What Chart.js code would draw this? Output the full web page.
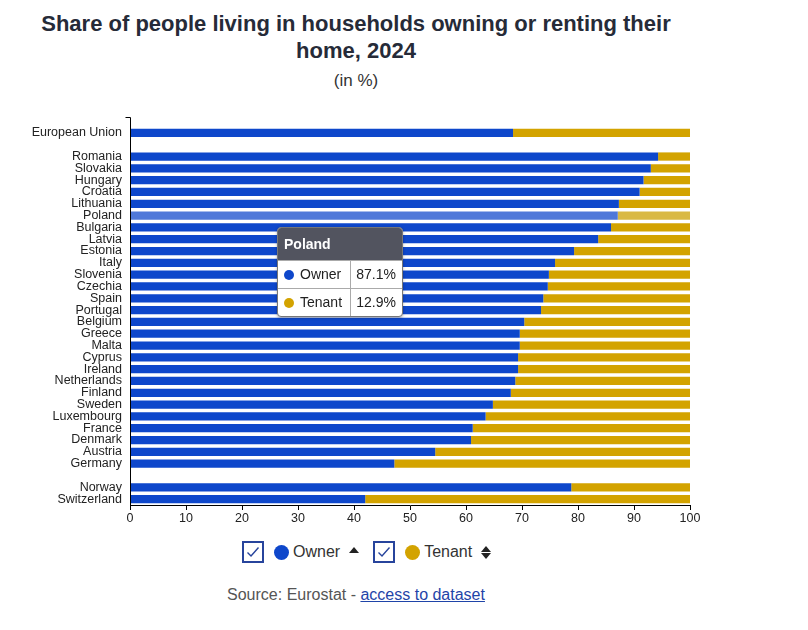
<!DOCTYPE html>
<html>
<head>
<meta charset="utf-8">
<script src="https://cdn.jsdelivr.net/npm/chart.js@4/dist/chart.umd.min.js"></script>
<style>
body { margin: 0; background: #fff; font-family: "Liberation Sans", Arial, sans-serif; }
#wrap { position: relative; width: 808px; height: 630px; }
#title { position: absolute; left: 0; top: 10px; width: 712px; text-align: center; font-weight: bold; font-size: 22px; line-height: 27px; color: #262b38; }
#sub { position: absolute; left: 0; top: 71px; width: 712px; text-align: center; font-size: 17px; line-height: 19px; color: #333; }
#box { position: absolute; left: 0; top: 100px; width: 808px; height: 430px; }
#legend { position: absolute; left: 242px; top: 541px; display: flex; align-items: center; font-size: 16px; color: #333; }
.item { display: flex; align-items: center; margin-right: 14px; }
.cb { width: 22px; height: 22px; box-sizing: border-box; border: 2px solid #27449c; }
.dot { width: 15px; height: 15px; border-radius: 50%; margin: 0 4px 0 10px; }
.up, .down { width: 0; height: 0; border-left: 5px solid transparent; border-right: 5px solid transparent; }
.up { border-bottom: 6px solid #222; }
.down { border-top: 6px solid #222; }
.arrows { margin-left: 9px; display: flex; flex-direction: column; gap: 1px; }
#source { position: absolute; left: 0; top: 586px; width: 712px; text-align: center; font-size: 16px; line-height: 18px; color: #555; }
#source a { color: #1f44a8; text-decoration: underline; }
#tip { position: absolute; width: 126px; background: #fff; border: 1px solid #777; border-radius: 4px; box-shadow: 0 1px 3px rgba(0,0,0,0.3); font-size: 14px; color: #222; overflow: hidden; box-sizing: border-box; display: none; }
#tip .head { background: #52545f; color: #fff; font-weight: bold; height: 32px; line-height: 32px; padding-left: 6px; }
#tip table { border-collapse: collapse; width: 100%; table-layout: fixed; }
#tip td { height: 28px; padding: 0; border-top: 1px solid #aaa; box-sizing: border-box; white-space: nowrap; }
#tip td.n { width: 72px; padding-left: 6px; }
#tip td.v { border-left: 1px solid #aaa; text-align: right; padding-right: 6px; }
#tip .tdot { display: inline-block; width: 10px; height: 10px; border-radius: 50%; margin-right: 6px; vertical-align: -1px; }
</style>
</head>
<body>
<div id="wrap">
  <div id="title">Share of people living in households owning or renting their<br>home, 2024</div>
  <div id="sub">(in %)</div>
  <div id="box"><canvas id="myChart"></canvas></div>
  <div id="tip"></div>
  <div id="legend"></div>
  <div id="source">Source: Eurostat - <a href="#">access to dataset</a></div>
</div>
<script>
// categories ('' rows are the gaps between groups)
const countries = ['European Union', '', 'Romania', 'Slovakia', 'Hungary', 'Croatia', 'Lithuania', 'Poland',
    'Bulgaria', 'Latvia', 'Estonia', 'Italy', 'Slovenia', 'Czechia', 'Spain', 'Portugal', 'Belgium', 'Greece',
    'Malta', 'Cyprus', 'Ireland', 'Netherlands', 'Finland', 'Sweden', 'Luxembourg', 'France', 'Denmark',
    'Austria', 'Germany', '', 'Norway', 'Switzerland'];

// share in %
const owner = [68.4, null, 94.3, 93.0, 91.7, 91.0, 87.3, 87.1, 85.9, 83.6, 79.3, 75.9, 74.8, 74.6, 73.8, 73.4,
    70.4, 69.6, 69.6, 69.3, 69.3, 68.8, 68.0, 64.8, 63.5, 61.2, 60.9, 54.5, 47.2, null, 78.8, 42.0];
const tenant = [31.6, null, 5.7, 7.0, 8.3, 9.0, 12.7, 12.9, 14.1, 16.4, 20.7, 24.1, 25.2, 25.4, 26.2, 26.6,
    29.6, 30.4, 30.4, 30.7, 30.7, 31.2, 32.0, 35.2, 36.5, 38.8, 39.1, 45.5, 52.8, null, 21.2, 58.0];

const xTicks = [0, 10, 20, 30, 40, 50, 60, 70, 80, 90, 100];

const blue = '#0e47cb';
const gold = '#d3a300';
const hovered = 'Poland';

// y axis line with outer tick at the top
const yAxisLine = {
    id: 'yAxisLine',
    afterDraw(chart) {
        const ctx = chart.ctx;
        const area = chart.chartArea;
        const x = Math.round(area.left) + 0.5;
        const top = Math.round(area.top) - 9.5;
        ctx.save();
        ctx.strokeStyle = '#000';
        ctx.lineWidth = 1;
        ctx.beginPath();
        ctx.moveTo(x - 5, top);
        ctx.lineTo(x, top);
        ctx.lineTo(x, area.bottom);
        ctx.stroke();
        ctx.restore();
    }
};

Chart.Tooltip.positioners.pointer = function (items, eventPosition) {
    return eventPosition;
};

function htmlTooltip(context) {
    const tip = document.getElementById('tip');
    const model = context.tooltip;
    if (model.opacity === 0 || !model.dataPoints || !model.dataPoints.length) {
        tip.style.display = 'none';
        return;
    }
    let html = '<div class="head">' + model.title[0] + '</div><table>';
    model.dataPoints.forEach(function (p) {
        html += '<tr><td class="n"><span class="tdot" style="background:' + p.dataset.backgroundColor + '"></span>' +
            p.dataset.label + '</td><td class="v">' + p.raw.toFixed(1) + '%</td></tr>';
    });
    html += '</table>';
    tip.innerHTML = html;
    const canvas = context.chart.canvas;
    const box = document.getElementById('box');
    tip.style.left = (box.offsetLeft + canvas.offsetLeft + model.caretX - 13) + 'px';
    tip.style.top = (box.offsetTop + canvas.offsetTop + model.caretY + 11) + 'px';
    tip.style.display = 'block';
}

const canva = document.getElementById('myChart').getContext('2d');
const myChart = new Chart(canva, {
    type: 'bar',
    data: {
        labels: countries,
        datasets: [{
            label: 'Owner',
            data: owner,
            backgroundColor: blue,
            hoverBackgroundColor: '#4f78d9',
            borderWidth: 0
        }, {
            label: 'Tenant',
            data: tenant,
            backgroundColor: gold,
            hoverBackgroundColor: '#d9b945',
            borderWidth: 0
        }]
    },
    options: {
        indexAxis: 'y',
        responsive: true,
        maintainAspectRatio: false,
        animation: false,
        events: [],
        barPercentage: 0.7,
        categoryPercentage: 1.0,
        layout: { padding: { top: 27, right: 118, left: 0, bottom: 0 } },
        scales: {
            x: {
                stacked: true,
                min: 0,
                max: 100,
                afterBuildTicks(scale) {
                    scale.ticks = xTicks.map(v => ({ value: v }));
                },
                afterFit(scale) { scale.height = 25; },
                grid: { display: true, drawOnChartArea: false, drawTicks: true, tickLength: 5, color: '#000' },
                border: { display: true, color: '#000' },
                ticks: { padding: 1, color: '#222', font: { family: 'Liberation Sans', size: 12.5 }, maxRotation: 0 }
            },
            y: {
                stacked: true,
                afterFit(scale) { scale.width = 130; },
                grid: { display: false, drawTicks: false },
                border: { display: false },
                ticks: { autoSkip: false, padding: 8, color: '#222', font: { family: 'Liberation Sans', size: 12.5 } }
            }
        },
        plugins: {
            legend: { display: false },
            tooltip: {
                enabled: false,
                mode: 'index',
                position: 'pointer',
                external: htmlTooltip
            }
        }
    },
    plugins: [yAxisLine]
});

// legend built from the datasets
const legend = document.getElementById('legend');
myChart.data.datasets.forEach(function (ds, i) {
    const item = document.createElement('div');
    item.className = 'item';
    const arrow = i === 0
        ? '<div class="arrows" style="margin-top:-5px"><div class="up"></div></div>'
        : '<div class="arrows"><div class="up"></div><div class="down"></div></div>';
    item.innerHTML = '<div class="cb"><svg width="18" height="18" viewBox="0 0 18 18"><polyline points="3.5,9.5 7,13 14.5,4.5" fill="none" stroke="#27449c" stroke-width="1.4"/></svg></div>' +
        '<div class="dot" style="background:' + ds.backgroundColor + '"></div><span>' + ds.label + '</span>' + arrow;
    legend.appendChild(item);
});

// show the hover state on Poland like in the reference
const idx = countries.indexOf(hovered);
const active = [{ datasetIndex: 0, index: idx }, { datasetIndex: 1, index: idx }];
myChart.setActiveElements(active);
myChart.update();
const bar = myChart.getDatasetMeta(0).data[idx];
myChart.tooltip.setActiveElements(active, { x: 290, y: bar.y });
</script>
</body>
</html>
